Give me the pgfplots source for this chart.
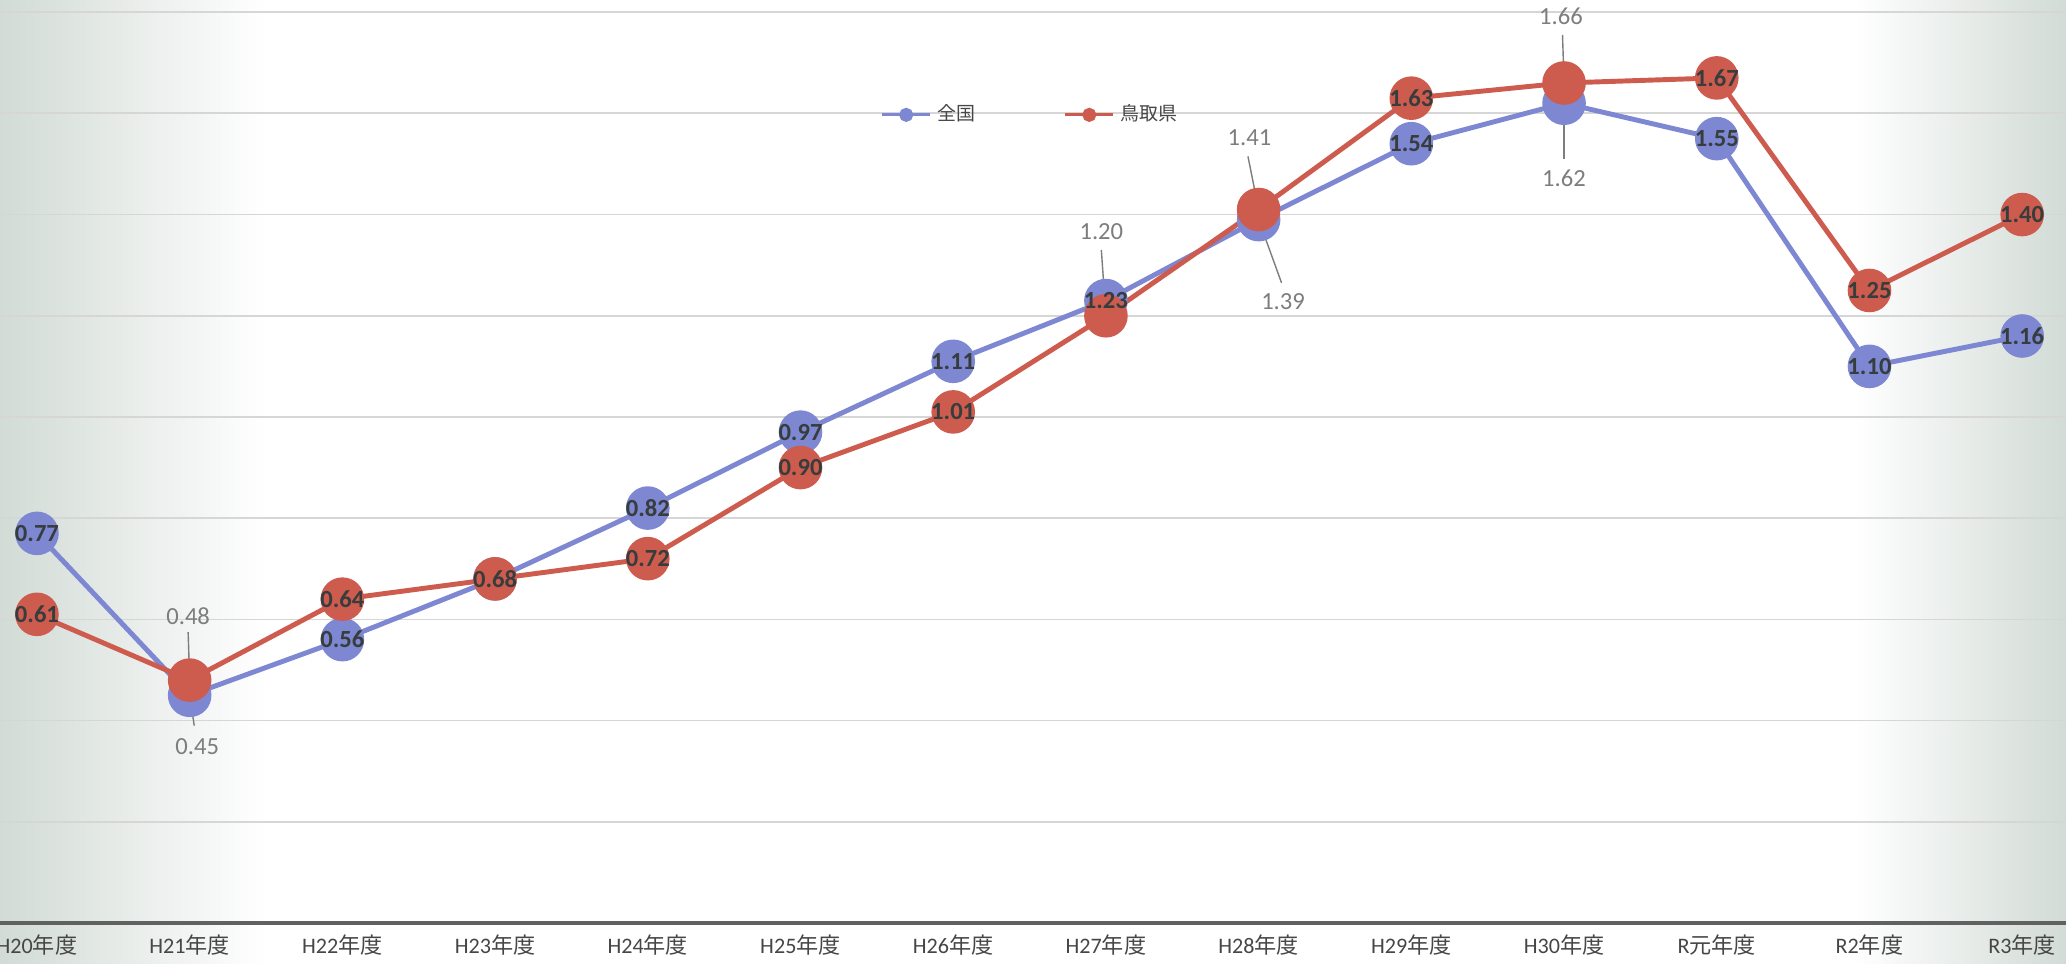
\documentclass[border=0pt]{standalone}
\usepackage{fontspec}
\usepackage{pgfplots}
\pgfplotsset{compat=1.18}
\usetikzlibrary{backgrounds}
\setmainfont{Carlito}
\newfontfamily\cjk{Noto Sans CJK JP}
\newcommand\lat[1]{{\rmfamily #1}}
\definecolor{zblue}{RGB}{125,135,210}
\definecolor{zred}{RGB}{205,92,78}
\definecolor{lbl}{RGB}{55,60,60}
\definecolor{glbl}{RGB}{125,125,125}
\definecolor{tickc}{RGB}{70,70,70}
\definecolor{bgc}{RGB}{210,219,214}
\begin{document}
\begin{tikzpicture}
\begin{axis}[
  scale only axis, width=20.66cm, height=9.23cm,
  xmin=-0.242, xmax=13.287, ymin=0, ymax=1.824,
  clip=false,
  axis line style={draw=none}, tick style={draw=none},
  ytick={0.2,0.4,0.6,0.8,1.0,1.2,1.4,1.6,1.8}, yticklabels={},
  ymajorgrids, grid style={draw=black!16, line width=0.5pt},
  xtick={0,1,2,3,4,5,6,7,8,9,10,11,12,13},
  xticklabels={{\lat{H20}年度},{\lat{H21}年度},{\lat{H22}年度},{\lat{H23}年度},{\lat{H24}年度},{\lat{H25}年度},{\lat{H26}年度},{\lat{H27}年度},{\lat{H28}年度},{\lat{H29}年度},{\lat{H30}年度},{\lat{R}元年度},{\lat{R2}年度},{\lat{R3}年度}},
  xticklabel style={font=\cjk\fontsize{6.3}{7}\selectfont, text=tickc, anchor=center, yshift=-2.2mm},
  legend style={at={(axis cs:5.52,1.597)}, anchor=west, draw=none, fill=none,
    font=\cjk\fontsize{5.4}{6}\selectfont, text=tickc, inner sep=0pt,
    nodes={inner sep=0.6mm},
    /tikz/every even column/.append style={column sep=8.2mm}},
  legend columns=2,
  legend image code/.code={\draw[#1, line width=0.9pt] (0,0) -- (4.8mm,0); \fill[#1] (2.4mm,0) circle (0.45mm);},
]
\coordinate (bl) at (axis cs:-0.242,-0.081);
\coordinate (lt) at (axis cs:1.5,1.824);
\coordinate (rb) at (axis cs:11.9,-0.081);
\coordinate (tr) at (axis cs:13.287,1.824);
\draw[line width=1pt, color=black!62] (axis cs:-0.242,0) -- (axis cs:13.287,0);

\addplot[zblue, line width=1.4pt, mark=*, mark size=5.5pt, mark options={fill=zblue, draw=zblue}] coordinates {
(0,0.77) (1,0.45) (2,0.56) (3,0.68) (4,0.82) (5,0.97) (6,1.11) (7,1.23) (8,1.39) (9,1.54) (10,1.62) (11,1.55) (12,1.10) (13,1.16)};
\addlegendentry{全国}
\addplot[zred, line width=1.4pt, mark=*, mark size=5.5pt, mark options={fill=zred, draw=zred}] coordinates {
(0,0.61) (1,0.48) (2,0.64) (3,0.68) (4,0.72) (5,0.90) (6,1.01) (7,1.20) (8,1.41) (9,1.63) (10,1.66) (11,1.67) (12,1.25) (13,1.40)};
\addlegendentry{鳥取県}

% dark data labels centred on the markers
\addplot[draw=none, forget plot, point meta=explicit symbolic, nodes near coords,
  every node near coord/.append style={anchor=center, font=\bfseries\fontsize{7}{8}\selectfont, text=lbl}] coordinates {
(0,0.77)[0.77] (1,0.45)[] (2,0.56)[0.56] (3,0.68)[] (4,0.82)[0.82] (5,0.97)[0.97] (6,1.11)[1.11] (7,1.23)[1.23] (8,1.39)[] (9,1.54)[1.54] (10,1.62)[] (11,1.55)[1.55] (12,1.10)[1.10] (13,1.16)[1.16]};
\addplot[draw=none, forget plot, point meta=explicit symbolic, nodes near coords,
  every node near coord/.append style={anchor=center, font=\bfseries\fontsize{7}{8}\selectfont, text=lbl}] coordinates {
(0,0.61)[0.61] (1,0.48)[] (2,0.64)[0.64] (3,0.68)[0.68] (4,0.72)[0.72] (5,0.90)[0.90] (6,1.01)[1.01] (7,1.20)[] (8,1.41)[] (9,1.63)[1.63] (10,1.66)[] (11,1.67)[1.67] (12,1.25)[1.25] (13,1.40)[1.40]};

% moved labels with leader lines
\draw[glbl, line width=0.4pt] (axis cs:0.99,0.575) -- (axis cs:1.0,0.48);
\draw[glbl, line width=0.4pt] (axis cs:1.03,0.39) -- (axis cs:1.0,0.45);
\draw[glbl, line width=0.4pt] (axis cs:6.97,1.33) -- (axis cs:7.0,1.20);
\draw[glbl, line width=0.4pt] (axis cs:7.93,1.515) -- (axis cs:8.0,1.41);
\draw[glbl, line width=0.4pt] (axis cs:8.15,1.265) -- (axis cs:8.0,1.39);
\draw[glbl, line width=0.4pt] (axis cs:9.99,1.755) -- (axis cs:10.0,1.66);
\draw[glbl, line width=0.4pt] (axis cs:10.0,1.51) -- (axis cs:10.0,1.62);
\node[text=glbl, font=\fontsize{7}{8}\selectfont] at (axis cs:0.99,0.607) {0.48};
\node[text=glbl, font=\fontsize{7}{8}\selectfont] at (axis cs:1.05,0.348) {0.45};
\node[text=glbl, font=\fontsize{7}{8}\selectfont] at (axis cs:6.97,1.366) {1.20};
\node[text=glbl, font=\fontsize{7}{8}\selectfont] at (axis cs:7.94,1.551) {1.41};
\node[text=glbl, font=\fontsize{7}{8}\selectfont] at (axis cs:8.16,1.227) {1.39};
\node[text=glbl, font=\fontsize{7}{8}\selectfont] at (axis cs:9.98,1.792) {1.66};
\node[text=glbl, font=\fontsize{7}{8}\selectfont] at (axis cs:10.0,1.472) {1.62};
\end{axis}
\begin{scope}[on background layer]
\fill[left color=bgc, right color=white] (bl) rectangle (lt);
\fill[left color=white, right color=bgc] (rb) rectangle (tr);
\end{scope}
\pgfresetboundingbox
\path (bl) rectangle (tr);
\end{tikzpicture}
\end{document}
